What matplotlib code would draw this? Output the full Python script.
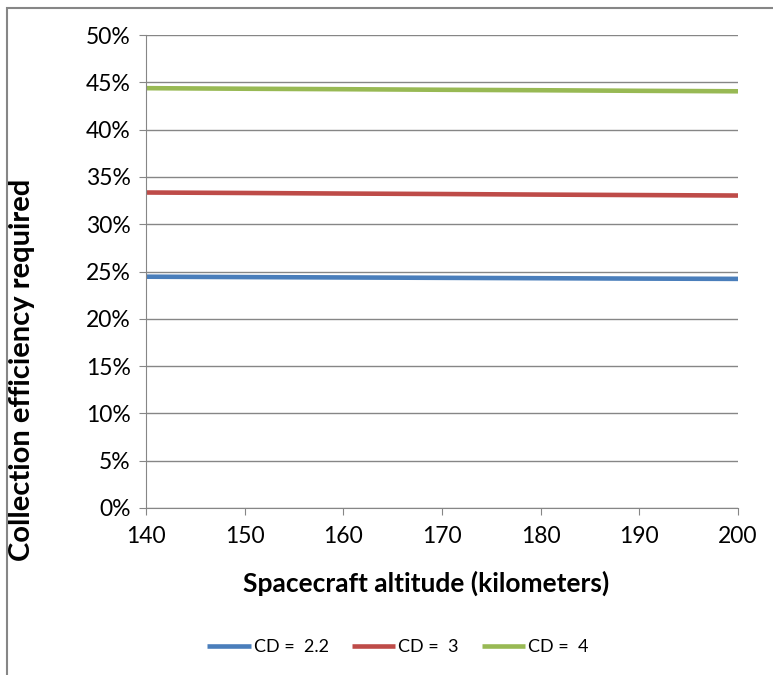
import numpy as np
import matplotlib
matplotlib.use("Agg")
import matplotlib.pyplot as plt
from matplotlib.ticker import PercentFormatter
from matplotlib.patches import Rectangle

plt.rcParams['font.family'] = ['Lato', 'DejaVu Sans']

# altitude (km) and required collection efficiency (%)
altitude = [140, 150, 160, 170, 180, 190, 200]
cd_22 = [24.45, 24.41, 24.37, 24.33, 24.29, 24.25, 24.22]
cd_3 = [33.35, 33.30, 33.24, 33.19, 33.13, 33.08, 33.03]
cd_4 = [44.38, 44.32, 44.27, 44.21, 44.16, 44.10, 44.05]

series = [("CD =  2.2", cd_22, "#4a7ebb"),
          ("CD =  3", cd_3, "#be4b48"),
          ("CD =  4", cd_4, "#98b954")]

fig = plt.figure(figsize=(7.73, 6.75), dpi=100)
ax = fig.add_axes([146/773, 1 - 508/675, (738 - 146)/773, (508 - 35)/675])

for label, vals, col in series:
    ax.plot(altitude, vals, color=col, linewidth=3.3, label=label, solid_capstyle='butt')

ax.set_xlim(140, 200)
ax.set_ylim(0, 50)
ax.set_xticks(np.arange(140, 201, 10))
ax.set_yticks(np.arange(0, 51, 5))
ax.yaxis.set_major_formatter(PercentFormatter(decimals=0))
ax.grid(axis='y', color='#868686', linewidth=1)
ax.set_axisbelow(True)

for s in ['top', 'right']:
    ax.spines[s].set_visible(False)
for s in ['left', 'bottom']:
    ax.spines[s].set_color('#868686')
ax.tick_params(axis='both', colors='#868686', labelcolor='black', labelsize=16.5,
               length=5, direction='out')
ax.tick_params(axis='y', pad=6)
ax.tick_params(axis='x', pad=8)

fig.text(426/773, 1 - 583/675, "Spacecraft altitude (kilometers)", ha='center', va='center',
         fontsize=19, fontweight='bold')
fig.text(22/773, 1 - 370/675, "Collection efficiency required", ha='center', va='center',
         rotation=90, fontsize=21, fontweight='bold')

fig.legend(loc='center', bbox_to_anchor=(398/773, 1 - 647/675), ncol=3, frameon=False,
           fontsize=13, handlelength=2.4, handletextpad=0.15, columnspacing=1.3)

# chart border (only left/top edges fall inside the crop)
fig.patches.append(Rectangle((7/773, -0.1), 1.2, 1.1 - 8/675, transform=fig.transFigure,
                             fill=False, edgecolor='#868686', linewidth=1.5))

fig.savefig("out.png", dpi=100)
